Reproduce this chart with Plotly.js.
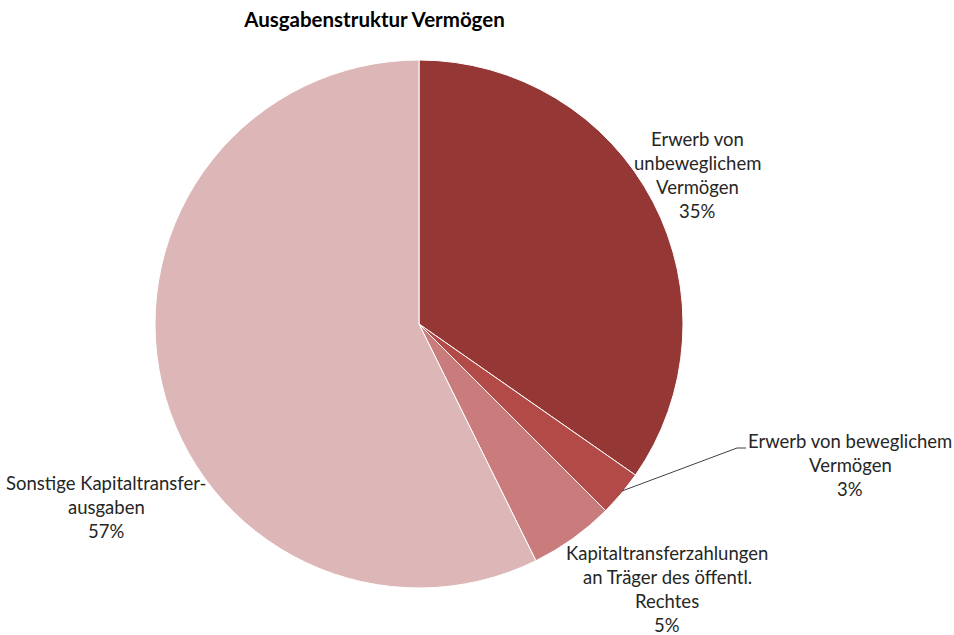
<!DOCTYPE html>
<html>
<head>
<meta charset="utf-8">
<script src="https://cdn.plot.ly/plotly-3.0.1.min.js"></script>
<style>html,body{margin:0;padding:0;background:#fff;}#chart{width:954px;height:635px;}</style>
</head>
<body>
<div id="chart"></div>
<script>
const categories = [
  "Erwerb von unbeweglichem Vermögen",
  "Erwerb von beweglichem Vermögen",
  "Kapitaltransferzahlungen an Träger des öffentl. Rechtes",
  "Sonstige Kapitaltransferausgaben"
];
const labelLines = [
  ["Erwerb von", "unbeweglichem", "Vermögen"],
  ["Erwerb von beweglichem", "Vermögen"],
  ["Kapitaltransferzahlungen", "an Träger des öffentl.", "Rechtes"],
  ["Sonstige Kapitaltransfer-", "ausgaben"]
];
const values = [34.7, 2.8, 5.2, 57.3];
const percentLabels = ["35%", "3%", "5%", "57%"];
const colors = ["#953735", "#b24a48", "#c97c7b", "#ddb7b7"];

const W = 954, H = 635;
const px = x => x / W;
const py = y => 1 - y / H;

// label block centers (pixels) and line spacing
const labelPos = [[697, 139], [850, 441], [667, 553], [106, 483]];
const lineStep = 24.1;

const annotations = [];
labelLines.forEach((lines, i) => {
  const all = lines.concat([percentLabels[i]]);
  all.forEach((t, j) => {
    annotations.push({
      text: t, xref: 'paper', yref: 'paper',
      x: px(labelPos[i][0]), y: py(labelPos[i][1] + j * lineStep),
      xanchor: 'center', yanchor: 'middle', showarrow: false,
      font: {family: 'Lato, sans-serif', size: 18.5, color: '#262626'}
    });
  });
});

const trace = {
  type: 'pie',
  labels: categories,
  values: values,
  sort: false,
  direction: 'clockwise',
  rotation: 0,
  textinfo: 'none',
  hoverinfo: 'label+percent',
  marker: {colors: colors, line: {color: '#ffffff', width: 1}},
  domain: {x: [px(155), px(683)], y: [py(588), py(60)]},
  showlegend: false
};

const layout = {
  width: W, height: H,
  margin: {l: 0, r: 0, t: 0, b: 0},
  paper_bgcolor: '#ffffff',
  title: {
    text: '<b>Ausgabenstruktur Vermögen</b>',
    x: px(374.5), xanchor: 'center', xref: 'paper',
    y: py(20), yanchor: 'middle', yref: 'paper',
    font: {family: 'Lato, sans-serif', size: 20.5, color: '#000000'}
  },
  annotations: annotations,
  shapes: [{
    type: 'path', xref: 'paper', yref: 'paper',
    path: `M ${px(622)},${py(491)} L ${px(737)},${py(448)} L ${px(746)},${py(448)}`,
    line: {color: '#404040', width: 1}
  }]
};

Plotly.newPlot('chart', [trace], layout, {displayModeBar: false, staticPlot: true});
</script>
</body>
</html>
